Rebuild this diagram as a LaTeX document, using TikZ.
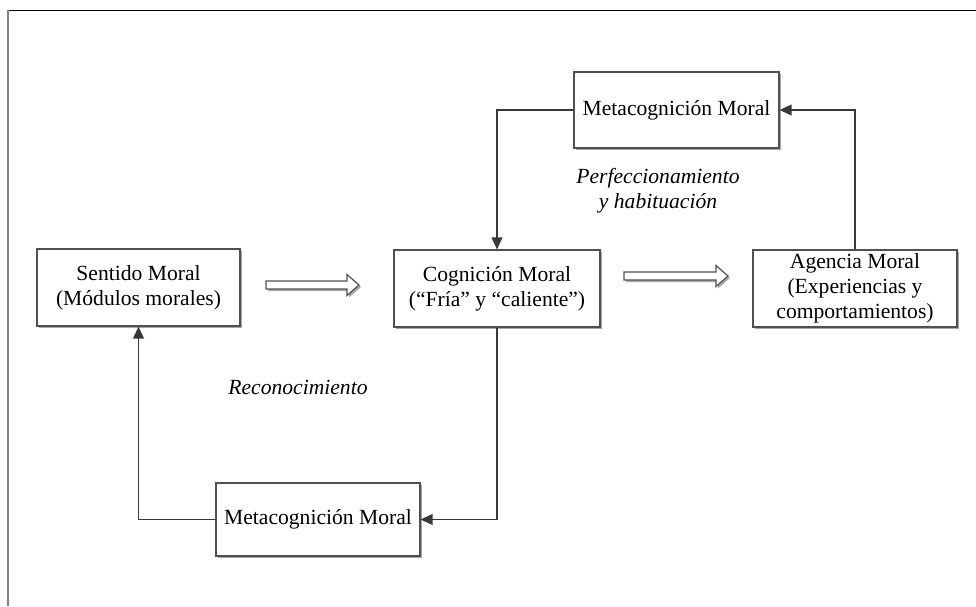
\documentclass[tikz,border=0pt]{standalone}
\usepackage{fontspec}
\setmainfont{Liberation Serif}
\usetikzlibrary{arrows.meta,shadows}
\definecolor{boxline}{HTML}{505050}
\definecolor{conn}{HTML}{383838}
\definecolor{shade}{HTML}{A8A8A8}
\begin{document}
\begin{tikzpicture}[x=0.5pt,y=-0.5pt,
  font=\fontsize{10.8}{12.6}\selectfont,
  box/.style={draw=boxline,line width=0.6pt,fill=white,align=center,inner sep=1pt,
    drop shadow={shadow xshift=1pt,shadow yshift=-1pt,fill=shade,opacity=1}},
  conn/.style={draw=conn,line width=0.75pt,-{Triangle[length=6pt,width=5.4pt]}},
  lab/.style={font=\fontsize{10.8}{12.5}\selectfont\itshape,align=center},
  hollow/.style={draw=boxline,line width=0.6pt,fill=white,
    drop shadow={shadow xshift=1pt,shadow yshift=-1pt,fill=shade,opacity=1}}]
\useasboundingbox (0,0) rectangle (976,606);
% frame
\draw[black,line width=0.5pt] (8,10) -- (976,10);
\draw[gray,line width=1pt] (8,10) -- (8,606);
% boxes
\node[box,minimum width=101.5pt,minimum height=38.5pt] (sent) at (138.5,287.5) {Sentido Moral\\(Módulos morales)};
\node[box,minimum width=103pt,minimum height=38.5pt] (cog) at (497,288.5) {Cognición Moral\\(“Fría” y “caliente”)};
\node[box,minimum width=102pt,minimum height=38.5pt] (ag) at (855,288.5) {Agencia Moral\\(Experiencias y\\comportamientos)};
\node[box,minimum width=102.5pt,minimum height=38pt] (metaT) at (676.5,110) {Metacognición Moral};
\node[box,minimum width=102pt,minimum height=36.5pt] (metaB) at (318,519.5) {Metacognición Moral};
% connectors
\draw[conn] (ag.north) |- (metaT.east);
\draw[conn] (metaT.west) -| (cog.north);
\draw[conn] (cog.south) |- (metaB.east);
\draw[conn] (metaB.west) -| (sent.south);
% hollow arrows
\coordinate (h1) at (266,285);
\coordinate (h2) at (624,276);
\path[hollow] (h1) ++(0,-4) -- ++(81,0) -- ++(0,-6.5) -- ++(12,10.5) -- ++(-12,10.5) -- ++(0,-6.5) -- ++(-81,0) -- cycle;
\path[hollow] (h2) ++(0,-4) -- ++(92,0) -- ++(0,-6.5) -- ++(12,10.5) -- ++(-12,10.5) -- ++(0,-6.5) -- ++(-92,0) -- cycle;
% labels
\node[lab] (l1) at (658,191) {Perfeccionamiento\\y habituación};
\node[lab] (l2) at (298,387) {Reconocimiento};
\end{tikzpicture}
\end{document}
